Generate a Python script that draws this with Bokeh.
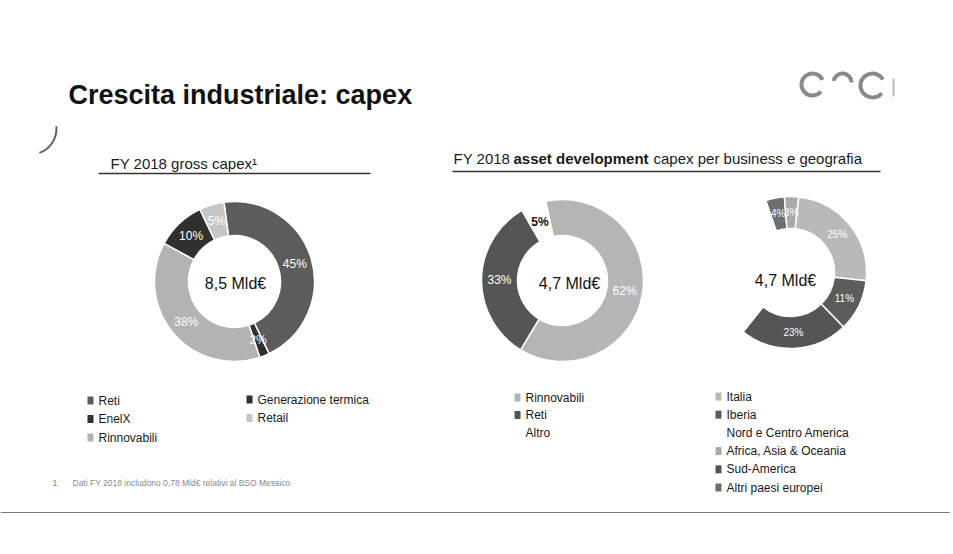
import math
from bokeh.plotting import figure
from bokeh.models import Range1d, ColumnDataSource
from bokeh.core.properties import value
from bokeh.embed import file_html
from bokeh.resources import INLINE

# ---------------- data ----------------
title_text = "Crescita industriale: capex"
sub1_text = "FY 2018 gross capex\u00b9"
sub2_parts = ["FY 2018", "asset development", "capex per business e geografia"]

d1_names = ["Reti", "Generazione termica", "Rinnovabili", "EnelX", "Retail"]
d1_values = [45, 2, 38, 10, 5]
d1_total = "8,5 Mld\u20ac"

d2_names = ["Rinnovabili", "Reti", "Altro"]
d2_values = [62, 33, 5]
d2_total = "4,7 Mld\u20ac"

d3_names = ["Altri paesi europei", "Africa, Asia & Oceania", "Italia", "Iberia",
            "Sud-America", "Nord e Centro America"]
d3_values = [4, 3, 25, 11, 23, 34]
d3_total = "4,7 Mld\u20ac"

footnote_num = "1"
footnote_text = "Dati FY 2018 includono 0,78 Mld\u20ac relativi al BSO Messico"

# ---------------- styles ----------------
d1_colors = ["#5c5c5c", "#2f2f2f", "#b3b3b3", "#303030", "#c6c6c6"]
d1_label_colors = ["white"] * 5
d2_colors = ["#b5b5b5", "#555555", "#ffffff"]
d2_label_colors = ["white", "white", "#111111"]
d3_colors = ["#6e6e6e", "#a9a9a9", "#b9b9b9", "#5c5c5c", "#555555", "#ffffff"]
d3_label_colors = ["white", "white", "white", "white", "white", None]

FONT = value("Liberation Sans")
W, H = 950, 550


def X(xi):
    return xi


def Y(yi):
    return H - yi


p = figure(width=W, height=H, output_backend="svg", toolbar_location=None,
           x_range=Range1d(0, W), y_range=Range1d(0, H), min_border=0,
           background_fill_color="white", border_fill_color="white")
p.axis.visible = False
p.grid.visible = False
p.outline_line_color = None


def txt(x, y, s, size, color="#1a1a1a", bold=False, align="left", baseline="middle", font=FONT):
    p.text(x=[X(x)], y=[Y(y)], text=[s], text_font=font, text_font_size=value(f"{size}px"),
           text_color=color, text_align=align, text_baseline=baseline,
           text_font_style="bold" if bold else "normal")


def donut(cx, cy, R, r, values, colors, start_deg, label_colors, label_size=12):
    total = float(sum(values))
    starts, ends, mids = [], [], []
    acc = start_deg
    for v in values:
        a0 = acc
        a1 = acc + 360.0 * v / total
        starts.append(math.radians(90 - a0))
        ends.append(math.radians(90 - a1))
        mids.append(math.radians(90 - (a0 + a1) / 2))
        acc = a1
    src = ColumnDataSource(dict(x=[X(cx)] * len(values), y=[Y(cy)] * len(values),
                                s=starts, e=ends, c=colors))
    p.annular_wedge(x="x", y="y", inner_radius=r, outer_radius=R, start_angle="s",
                    end_angle="e", direction="clock", fill_color="c", line_color="white",
                    line_width=1.5, source=src)
    rm = (R + r) / 2.0
    for v, m, lc in zip(values, mids, label_colors):
        if lc is None:
            continue
        lx = X(cx) + rm * math.cos(m)
        ly = Y(cy) + rm * math.sin(m)
        p.text(x=[lx], y=[ly], text=[f"{v}%"], text_font=FONT,
               text_font_size=value(f"{label_size}px"), text_color=lc,
               text_align="center", text_baseline="middle",
               text_font_style="bold" if lc != "white" else "normal")


# title
txt(68, 94, title_text, 27, color="#111111", bold=True, baseline="alphabetic")

# subtitles + rules
txt(110, 163, sub1_text, 15, baseline="alphabetic")
p.segment(x0=[X(98)], y0=[Y(173)], x1=[X(370)], y1=[Y(173)], line_color="#333333", line_width=1.5)
txt(453, 158, sub2_parts[0], 15, baseline="alphabetic")
txt(513, 158, sub2_parts[1], 15, bold=True, baseline="alphabetic")
txt(653, 158, sub2_parts[2], 15, baseline="alphabetic")
p.segment(x0=[X(452)], y0=[Y(171)], x1=[X(880)], y1=[Y(171)], line_color="#333333", line_width=1.5)

# donuts
donut(234, 281, 80, 46, d1_values, d1_colors, -7.6, d1_label_colors, 12)
txt(235, 283, d1_total, 16, color="#111111", align="center")

donut(562, 280, 81, 45, d2_values, d2_colors, -12, d2_label_colors, 12)
txt(569, 283, d2_total, 16, color="#111111", align="center")

donut(790, 272, 76, 44, d3_values, d3_colors, -19, d3_label_colors, 10)
txt(785, 280, d3_total, 16, color="#111111", align="center")


# legends
def legend(x, y0, step, names, colors, marker=True):
    for i, (n, c) in enumerate(zip(names, colors)):
        yy = y0 + i * step
        if marker and c != "#ffffff":
            p.rect(x=[X(x)], y=[Y(yy)], width=6, height=8, fill_color=c, line_color=None)
        txt(x + 8, yy, n, 12, color="#1a1a1a")


leg1_c1 = [d1_names[0], d1_names[3], d1_names[2]]
leg1_c1_col = [d1_colors[0], d1_colors[3], d1_colors[2]]
leg1_c2 = [d1_names[1], d1_names[4]]
leg1_c2_col = [d1_colors[1], d1_colors[4]]
legend(90, 400, 18.5, leg1_c1, leg1_c1_col)
legend(249, 399, 18.5, leg1_c2, leg1_c2_col)

legend(517, 397, 17.5, d2_names, d2_colors)

leg3 = ["Italia", "Iberia", "Nord e Centro America", "Africa, Asia & Oceania",
        "Sud-America", "Altri paesi europei"]
leg3_col = [d3_colors[d3_names.index(n)] for n in leg3]
legend(718, 396, 18.2, leg3, leg3_col)

# footnote
txt(52, 482, footnote_num, 8.5, color="#777777")
txt(72, 482, footnote_text, 8.5, color="#888888")

# logo (decorative)
logo = "#8a8a8a"
p.arc(x=[X(812)], y=[Y(84)], radius=11, start_angle=math.radians(25),
      end_angle=math.radians(320), line_color=logo, line_width=4)
p.arc(x=[X(842)], y=[Y(82)], radius=9, start_angle=math.radians(0),
      end_angle=math.radians(170), line_color=logo, line_width=4)
p.arc(x=[X(872)], y=[Y(85)], radius=12, start_angle=math.radians(30),
      end_angle=math.radians(320), line_color=logo, line_width=4)
p.segment(x0=[X(893)], y0=[Y(78)], x1=[X(893)], y1=[Y(96)], line_color="#bbbbbb", line_width=2)

# scan mark at left
p.arc(x=[X(30)], y=[Y(128)], radius=26, start_angle=math.radians(-70),
      end_angle=math.radians(5), line_color="#666666", line_width=2)

# slide frame bottom
p.segment(x0=[X(0)], y0=[Y(512)], x1=[X(950)], y1=[Y(512)], line_color="#777777", line_width=1)

open("out.html", "w").write(file_html(p, INLINE))
